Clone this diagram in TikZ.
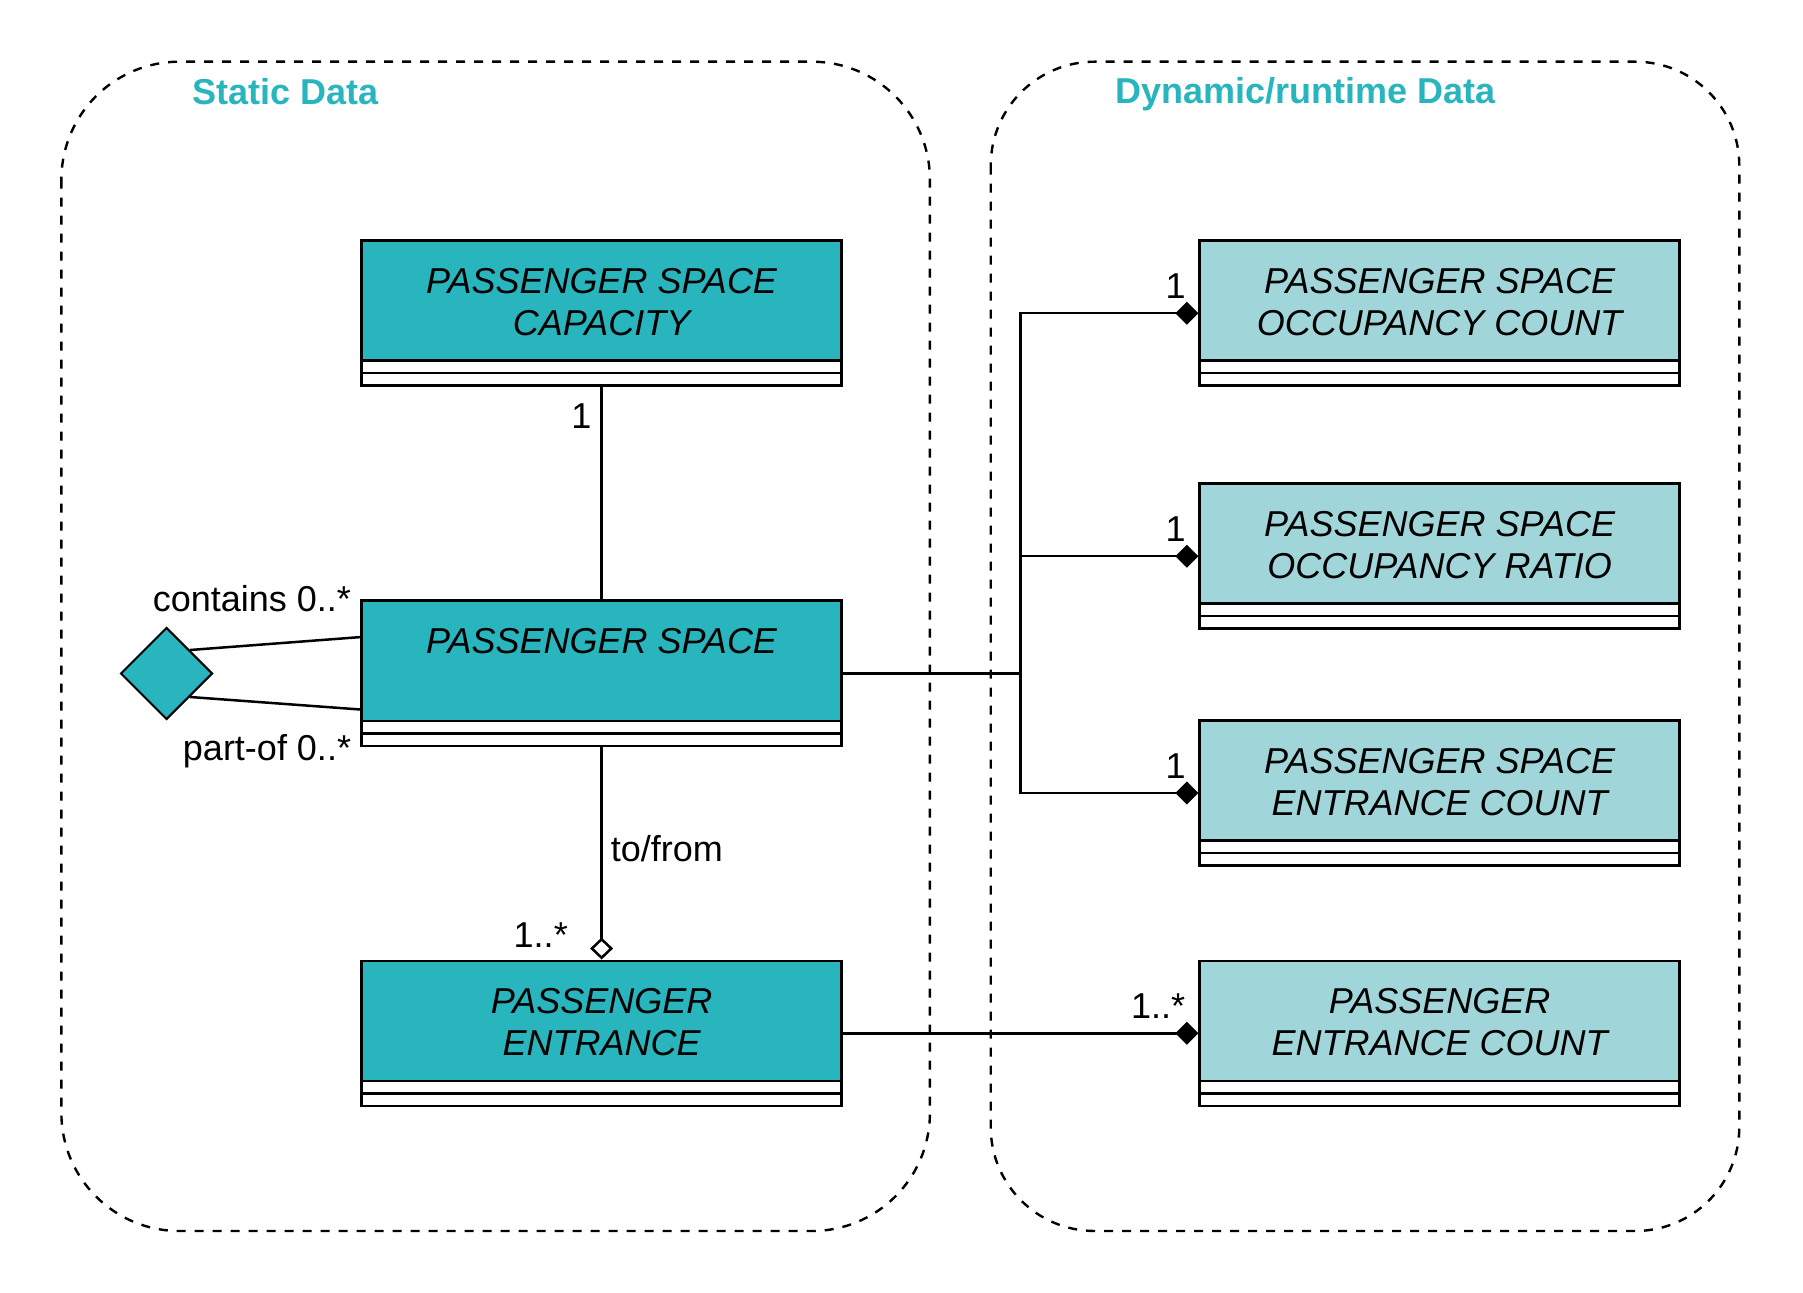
\documentclass[tikz,border=0pt]{standalone}
\usepackage{fontspec}
\setmainfont{Liberation Sans}
\usetikzlibrary{arrows.meta, shapes.geometric}

\definecolor{tealdark}{RGB}{40,181,189}
\definecolor{teallight}{RGB}{160,214,217}
\newcommand{\diagfont}{\fontsize{18}{21}\selectfont}

\tikzset{
  klass/.style 2 args={draw, line width=1.3pt, fill=white, minimum width=240pt, minimum height=72.5pt, inner sep=0pt,
    path picture={
      \fill[#1] (path picture bounding box.north west) rectangle ([yshift=-60pt]path picture bounding box.north east);
      \draw[line width=1.3pt] ([yshift=-60pt]path picture bounding box.north west) -- ([yshift=-60pt]path picture bounding box.north east);
      \draw[line width=1.3pt] ([yshift=-66.25pt]path picture bounding box.north west) -- ([yshift=-66.25pt]path picture bounding box.north east);
    },
    label={[klasstext]north:{#2}}},
  klasstext/.style={anchor=north, yshift=-14pt, align=center, inner sep=0pt, font=\diagfont\itshape},
  mult/.style={inner sep=0pt, font=\diagfont},
  grouptitle/.style={inner sep=0pt, anchor=base west, text=tealdark, font=\diagfont\bfseries},
  groupbox/.style={line width=1.2pt, dash pattern=on 4.5pt off 4.5pt},
  hubdiamond/.style={diamond, draw, line width=1pt, fill=tealdark, minimum width=46pt, minimum height=46pt, inner sep=0pt},
  comp/.style={-{Diamond[length=11.5pt, width=11.5pt]}},
  agg/.style={-{Diamond[open, length=11pt, width=11.5pt]}},
}

\begin{document}
\begin{tikzpicture}[x=0.5pt, y=-0.5pt, line width=1.25pt]
\useasboundingbox (0,0) rectangle (1803,1293);

\draw[groupbox, rounded corners=59pt] (61.4,61.7) rectangle (929.9,1231);
\draw[groupbox, rounded corners=52pt] (990.7,61.7) rectangle (1739.3,1231);
\node[grouptitle] (statictitle) at (191,105) {Static Data};
\node[grouptitle] (dyntitle) at (1114.5,104) {Dynamic/runtime Data};

\node[klass={tealdark}{PASSENGER SPACE\\CAPACITY}] (capacity) at (601.6,313.2) {};
\node[klass={tealdark}{PASSENGER SPACE}] (space) at (601.6,673.3) {};
\node[klass={tealdark}{PASSENGER\\ENTRANCE}] (pentrance) at (601.6,1033.3) {};
\node[hubdiamond] (hub) at (166.5,673.5) {};

\node[klass={teallight}{PASSENGER SPACE\\OCCUPANCY COUNT}] (occcount) at (1439.6,313.2) {};
\node[klass={teallight}{PASSENGER SPACE\\OCCUPANCY RATIO}] (occratio) at (1439.6,556.2) {};
\node[klass={teallight}{PASSENGER SPACE\\ENTRANCE COUNT}] (entcount) at (1439.6,793) {};
\node[klass={teallight}{PASSENGER\\ENTRANCE COUNT}] (pentcount) at (1439.6,1033.3) {};
\coordinate (split) at (1020.6,673.3);

\draw (capacity) -- node[mult, pos=0, anchor=north east, xshift=-4.5pt, yshift=-7.5pt] {1} (space);
\draw (hub.north east) -- node[mult, pos=1, anchor=base east, xshift=-4pt, yshift=13pt] {contains 0..*} ([yshift=18.1pt]space.west);
\draw (hub.south east) -- node[mult, pos=1, anchor=base east, xshift=-4pt, yshift=-25.25pt] {part-of 0..*} ([yshift=-18.1pt]space.west);
\draw[agg] (space) -- node[mult, midway, anchor=west, xshift=4pt, yshift=2.5pt] {to/from}
  node[mult, pos=1, anchor=base east, xshift=-16.3pt, yshift=6pt] {1..*} (pentrance);

\draw (space) -- (split);
\foreach \n in {occcount, occratio, entcount}
  \draw[comp] (split) |- node[mult, pos=1, anchor=base east, xshift=-5.75pt, yshift=7.5pt] {1} (\n);
\draw[comp] (pentrance) -- node[mult, pos=1, anchor=base east, xshift=-6pt, yshift=7.2pt] {1..*} (pentcount);
\end{tikzpicture}
\end{document}
